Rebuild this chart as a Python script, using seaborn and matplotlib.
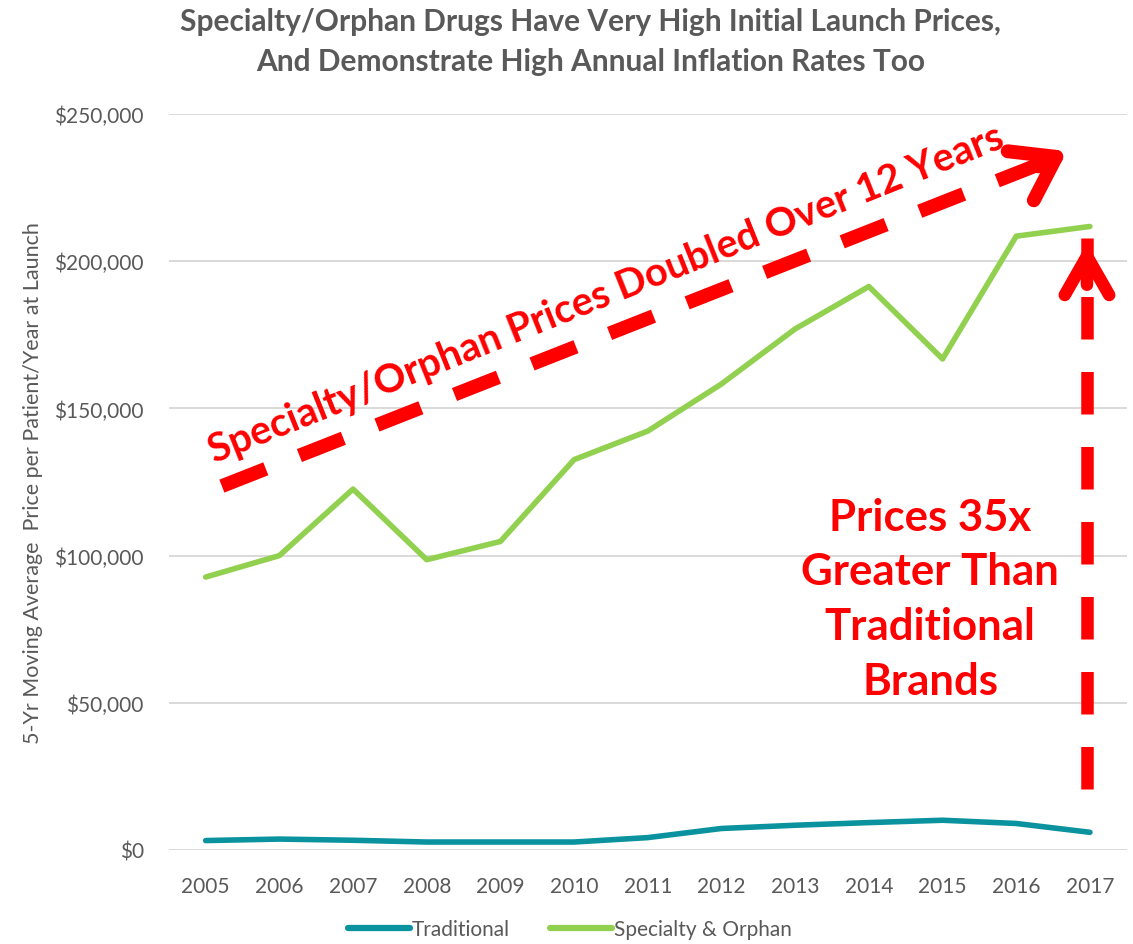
import matplotlib
matplotlib.use("Agg")
import matplotlib.pyplot as plt
import seaborn as sns
import pandas as pd

years = list(range(2005, 2018))
traditional = [3200, 3700, 3300, 2700, 2700, 2700, 4200, 7300, 8400, 9300, 10100, 9000, 6000]
specialty = [92700, 100000, 122600, 98600, 104800, 132600, 142300, 158300, 177000, 191400, 166800, 208500, 211800]
series_names = ["Traditional", "Specialty & Orphan"]
colors = ["#0a929e", "#92d050"]

title = "Specialty/Orphan Drugs Have Very High Initial Launch Prices,\nAnd Demonstrate High Annual Inflation Rates Too"
ylabel = "5-Yr Moving Average  Price per Patient/Year at Launch"
diag_text = "Specialty/Orphan Prices Doubled Over 12 Years"
box_text = "Prices 35x\nGreater Than\nTraditional\nBrands"
yticks = [0, 50000, 100000, 150000, 200000, 250000]

df = pd.DataFrame({
    "Year": years * 2,
    "Price": traditional + specialty,
    "Series": [series_names[0]] * len(years) + [series_names[1]] * len(years),
})

sns.set_theme(style="white")
plt.rcParams["font.family"] = ["Lato", "DejaVu Sans"]

fig = plt.figure(figsize=(11.33, 9.45), dpi=100)
ax = fig.add_axes([0.149, 0.0995, 0.8455, 0.7788])

sns.lineplot(data=df, x="Year", y="Price", hue="Series", palette=colors,
             linewidth=4.0, ax=ax, legend=True, solid_capstyle="round")

ax.set_xlim(2004.5, 2017.5)
ax.set_ylim(0, 250000)
ax.set_xticks(years)
ax.set_xticklabels([str(y) for y in years], fontsize=15, color="#595959")
ax.set_yticks(yticks)
ax.set_yticklabels(["${:,.0f}".format(v) for v in yticks], fontsize=15, color="#595959")
ax.tick_params(axis="x", length=0, pad=19)
ax.tick_params(axis="y", length=0, pad=18)
ax.yaxis.grid(True, color="#d9d9d9", linewidth=1.4)
ax.set_axisbelow(True)
for s in ax.spines.values():
    s.set_visible(False)
ax.set_xlabel("")
ax.set_ylabel(ylabel, fontsize=15.5, color="#595959", labelpad=8)

fig.text(0.521, 0.9555, title, ha="center", va="center", fontsize=21.5,
         fontweight="bold", color="#595959", linespacing=1.5)

# Diagonal dashed arrow
red = "#ff0000"
ax.plot([2005.22, 2016.39], [123600, 233700], color=red, linewidth=10,
        linestyle=(0, (3.4, 2.6)), solid_capstyle="butt", dash_capstyle="butt")
ax.annotate("", xy=(2016.69, 237400), xytext=(2016.30, 232200),
            arrowprops=dict(arrowstyle="->,head_length=2.9,head_width=2.0",
                            lw=10, color=red, mutation_scale=10,
                            shrinkA=0, shrinkB=0, capstyle="round", joinstyle="round"))
ax.text(2010.44, 188900, diag_text, rotation=21.8, rotation_mode="anchor",
        ha="center", va="center", fontsize=28.5, color=red, fontweight="bold")

# Vertical dashed arrow
ax.plot([2016.96, 2016.96], [20700, 208000], color=red, linewidth=9,
        linestyle=(0, (3.4, 2.6)), solid_capstyle="butt", dash_capstyle="butt")
ax.annotate("", xy=(2016.96, 206000), xytext=(2016.96, 192000),
            arrowprops=dict(arrowstyle="->,head_length=2.8,head_width=1.6",
                            lw=9, color=red, mutation_scale=10,
                            shrinkA=0, shrinkB=0, capstyle="round", joinstyle="round"))

ax.text(2014.83, 85300, box_text, ha="center", va="center", fontsize=31.5,
        color=red, fontweight="bold", linespacing=1.45)

leg = ax.legend(loc="center", bbox_to_anchor=(0.503, 0.0155),
                bbox_transform=fig.transFigure, ncol=2, frameon=False,
                fontsize=15, handlelength=3.0, handletextpad=0.1, columnspacing=1.9,
                borderpad=0.1)
for t in leg.get_texts():
    t.set_color("#595959")
for h in leg.get_lines():
    h.set_linewidth(4.5)

fig.savefig("out.png", dpi=100)
